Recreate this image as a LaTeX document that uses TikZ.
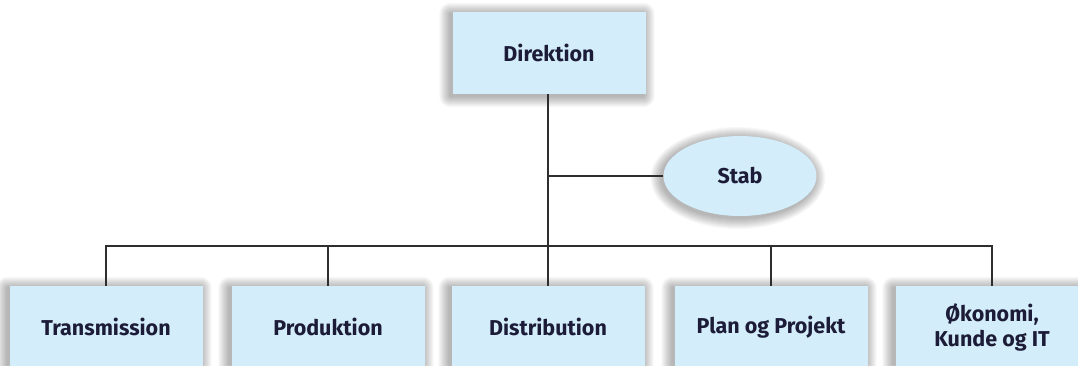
\documentclass[tikz,border=0pt]{standalone}
\usepackage{fontspec}
\setmainfont{Fira Sans}
\usetikzlibrary{shapes.geometric,backgrounds}
\definecolor{boxfill}{HTML}{D3EDFA}
\definecolor{txt}{HTML}{1C1C38}
\definecolor{ln}{HTML}{2E2E2E}
\tikzset{
  unitbox/.style={rectangle, fill=boxfill, minimum width=193pt, minimum height=82pt,
    inner sep=0pt, align=center, text=txt, font=\fontsize{21.5}{25}\selectfont\bfseries},
  stabbox/.style={ellipse, fill=boxfill, minimum width=153pt, minimum height=80pt,
    inner sep=0pt, text=txt, font=\fontsize{21.5}{25}\selectfont\bfseries},
  conn/.style={draw=ln, line width=1.8pt},
  shadowlayer/.style={fill=black, fill opacity=0.028}
}
\begin{document}
\begin{tikzpicture}[x=1pt,y=-1pt]
\useasboundingbox (0,0) rectangle (1078,365);
\clip (0,0) rectangle (1078,365);
\coordinate (bus) at (548,246);
\node[unitbox] (dir) at (549,53) {Direktion};
\node[stabbox] (stab) at (740,176) {Stab};
\node[unitbox] (trans) at (106,327) {Transmission};
\node[unitbox] (prod) at (328,327) {Produktion};
\node[unitbox] (dist) at (548,327) {Distribution};
\node[unitbox] (plan) at (771,327) {Plan og Projekt};
\node[unitbox] (okon) at (992,327) {Økonomi,\\Kunde og IT};
\draw[conn] (dir.south -| bus) -- (dist.north -| bus);
\draw[conn] (stab.west) -- (stab.west -| bus);
\draw[conn] (trans.north) |- (bus) -| (okon.north);
\draw[conn] (prod.north) -- (prod.north |- bus);
\draw[conn] (plan.north) -- (plan.north |- bus);
\begin{scope}[on background layer]
\fill[white] (0,0) rectangle (1078,365);
\foreach \n in {dir,trans,prod,dist,plan,okon}{
  \foreach \i in {1,...,11}{
    \fill[shadowlayer, rounded corners=\i pt] ([shift={(-2-\i,2+\i)}]\n.south west) rectangle ([shift={(-2+\i,2-\i)}]\n.north east);
  }
}
\foreach \i in {1,...,11}{
  \fill[shadowlayer] ([shift={(-2,2)}]stab.center) ellipse [x radius=76.5+\i, y radius=40+\i];
}
\end{scope}
\end{tikzpicture}
\end{document}
